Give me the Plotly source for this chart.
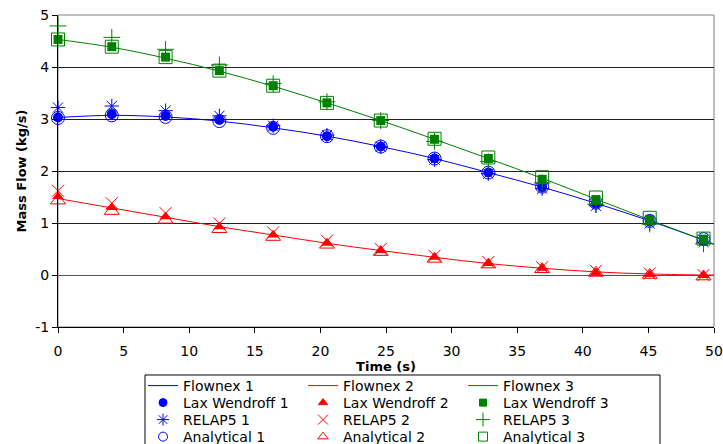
import plotly.graph_objects as go

# ---------------- data ----------------
time = [0, 4.1, 8.2, 12.3, 16.4, 20.5, 24.6, 28.7, 32.8, 36.9, 41.0, 45.1, 49.2]
flow_time = [0, 4.1, 8.2, 12.3, 16.4, 20.5, 24.6, 28.7, 32.8, 36.9, 41.0, 45.1, 49.2, 50]

flownex_1 = [3.03, 3.07, 3.04, 2.96, 2.83, 2.67, 2.47, 2.24, 1.97, 1.69, 1.38, 1.04, 0.67, 0.59]
flownex_2 = [1.47, 1.29, 1.11, 0.93, 0.77, 0.61, 0.47, 0.34, 0.22, 0.13, 0.06, 0.02, 0.0, 0.0]
flownex_3 = [4.53, 4.38, 4.17, 3.92, 3.63, 3.31, 2.97, 2.61, 2.24, 1.86, 1.46, 1.06, 0.67, 0.59]

lax_1 = [3.03, 3.09, 3.06, 2.98, 2.85, 2.67, 2.47, 2.24, 1.97, 1.69, 1.37, 1.03, 0.66]
lax_2 = [1.51, 1.30, 1.12, 0.93, 0.77, 0.61, 0.47, 0.34, 0.22, 0.13, 0.05, 0.01, -0.01]
lax_3 = [4.53, 4.39, 4.19, 3.93, 3.64, 3.31, 2.97, 2.61, 2.24, 1.84, 1.45, 1.07, 0.69]

relap_1 = [3.22, 3.25, 3.16, 3.06, 2.87, 2.69, 2.47, 2.22, 1.95, 1.66, 1.33, 0.99, 0.63]
relap_2 = [1.62, 1.38, 1.19, 0.99, 0.82, 0.66, 0.50, 0.37, 0.25, 0.15, 0.08, 0.03, 0.0]
relap_3 = [4.79, 4.57, 4.34, 4.04, 3.68, 3.33, 2.97, 2.57, 2.18, 1.77, 1.36, 0.98, 0.60]

analytical_1 = [3.02, 3.07, 3.04, 2.96, 2.83, 2.67, 2.47, 2.24, 1.97, 1.70, 1.39, 1.04, 0.69]
analytical_2 = [1.43, 1.23, 1.06, 0.88, 0.73, 0.58, 0.44, 0.31, 0.20, 0.11, 0.04, 0.0, -0.03]
analytical_3 = [4.53, 4.39, 4.19, 3.93, 3.64, 3.31, 2.97, 2.62, 2.26, 1.88, 1.49, 1.10, 0.70]

x_ticks = [0, 5, 10, 15, 20, 25, 30, 35, 40, 45, 50]
y_ticks = [-1, 0, 1, 2, 3, 4, 5]
y_tick_labels = ["-1", "0", "1", "2", "3", "4", "5"]

BLUE = "#0000FF"
RED = "#FF0000"
GREEN = "#008000"
FONT = "DejaVu Sans, Arial, sans-serif"

fig = go.Figure()

groups = [
    ("1", BLUE, flownex_1, lax_1, relap_1, analytical_1, "circle", "asterisk-open", "circle-open"),
    ("2", RED, flownex_2, lax_2, relap_2, analytical_2, "triangle-up", "x-thin-open", "triangle-up-open"),
    ("3", GREEN, flownex_3, lax_3, relap_3, analytical_3, "square", "cross-thin-open", "square-open"),
]

# legend layout: one legend per entry (3 columns x 4 rows)
col_x = [0.1296, 0.3735, 0.6174]
row_y = [-0.1891, -0.2436, -0.2981, -0.3526]
legend_layouts = {}


def legend_id(col, row):
    k = row * 3 + col + 1
    return "legend" if k == 1 else f"legend{k}"


for ci, (n, col, fl, lx, rl, an, s_lax, s_rel, s_an) in enumerate(groups):
    for ri in range(4):
        legend_layouts[legend_id(ci, ri)] = dict(
            x=col_x[ci], y=row_y[ri], xanchor="left", yanchor="middle",
            bgcolor="rgba(0,0,0,0)", borderwidth=0, itemwidth=30,
            font=dict(family=FONT, size=14, color="#000000"))

    fig.add_trace(go.Scatter(x=flow_time, y=fl, mode="lines", name=f"Flownex {n}",
                             line=dict(color=col, width=1, shape="spline"),
                             legend=legend_id(ci, 0)))
    fig.add_trace(go.Scatter(x=time, y=rl, mode="markers", name=f"RELAP5 {n}",
                             marker=dict(symbol=s_rel, size=12, color=col,
                                         line=dict(color=col, width=1)),
                             cliponaxis=False, showlegend=False))
    fig.add_trace(go.Scatter(x=time, y=lx, mode="markers", name=f"Lax Wendroff {n}",
                             marker=dict(symbol=s_lax, size=10 if s_lax != "square" else 9,
                                         color=col, line=dict(width=0)),
                             cliponaxis=False, showlegend=False))
    fig.add_trace(go.Scatter(x=time, y=an, mode="markers", name=f"Analytical {n}",
                             marker=dict(symbol=s_an, size=13, color=col,
                                         line=dict(color=col, width=1)),
                             cliponaxis=False, showlegend=False))

    # legend-only entries with the smaller symbols used in the legend box
    for ri, (nm, sym, sz) in enumerate([(f"Lax Wendroff {n}", s_lax, 8 if s_lax != "square" else 7),
                                        (f"RELAP5 {n}", s_rel, 10),
                                        (f"Analytical {n}", s_an, 9)], start=1):
        fig.add_trace(go.Scatter(x=[None], y=[None], mode="markers", name=nm,
                                 marker=dict(symbol=sym, size=sz, color=col,
                                             line=dict(color=col, width=1)),
                                 legend=legend_id(ci, ri)))

# plot-area border (grey) and legend box
fig.add_shape(type="rect", xref="paper", yref="paper", x0=0, x1=1, y0=0, y1=1,
              line=dict(color="#808080", width=1), layer="below")
fig.add_shape(type="rect", xref="paper", yref="paper", x0=0.1326, x1=0.9177,
              y0=-0.40, y1=-0.1538, line=dict(color="#000000", width=1))

fig.update_layout(
    width=723, height=444,
    margin=dict(l=58, r=9, t=15, b=117, autoexpand=False),
    paper_bgcolor="white", plot_bgcolor="white",
    font=dict(family=FONT, size=14, color="#000000"),
    showlegend=True,
    xaxis=dict(range=[0, 50], tickvals=x_ticks, ticks="outside", ticklen=5,
               tickcolor="#000000", showline=True, linecolor="#000000", linewidth=1,
               showgrid=False, zeroline=False, ticklabelstandoff=6,
               tickfont=dict(family=FONT, size=14),
               title=dict(text="<b>Time (s)</b>", standoff=2,
                          font=dict(family=FONT, size=13))),
    yaxis=dict(range=[-1, 5], tickvals=y_ticks, ticktext=y_tick_labels,
               ticks="outside", ticklen=5,
               tickcolor="#000000", showline=True, linecolor="#000000", linewidth=1,
               showgrid=True, gridcolor="#222222", gridwidth=1,
               zeroline=True, zerolinecolor="#555555", zerolinewidth=1,
               tickfont=dict(family=FONT, size=14),
               title=dict(text="<b>Mass Flow (kg/s)</b>", standoff=5,
                          font=dict(family=FONT, size=13))),
)
fig.update_layout(**legend_layouts)

fig.write_html("out.html")
